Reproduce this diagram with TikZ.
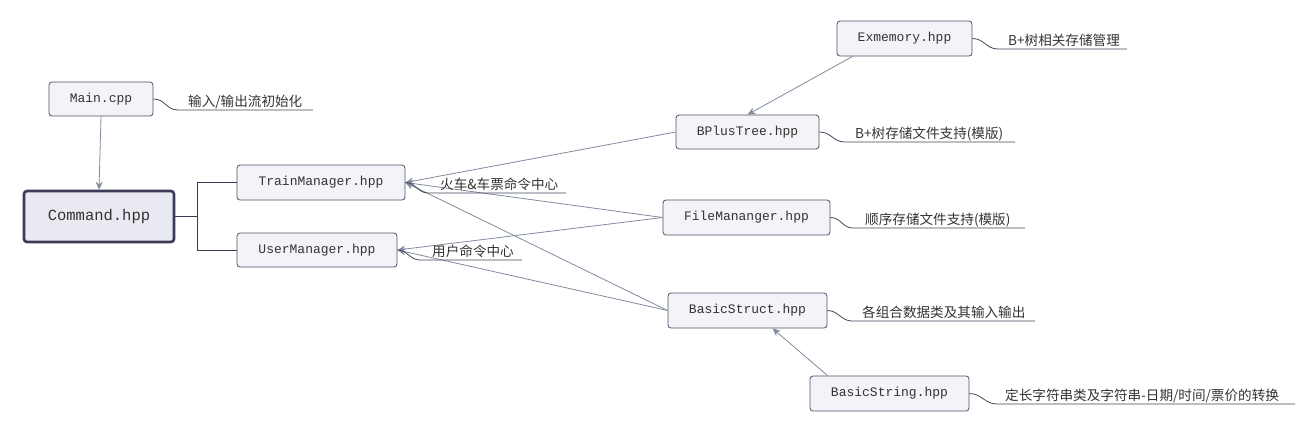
\documentclass[tikz,border=0pt]{standalone}
\usepackage{fontspec}
\setmonofont{Liberation Mono}
\newfontfamily\cjk{Noto Sans CJK SC}
\usetikzlibrary{arrows.meta}
\definecolor{boxline}{HTML}{50506A}
\definecolor{boxfill}{HTML}{F4F4F8}
\definecolor{cmdline}{HTML}{3B3B58}
\definecolor{cmdfill}{HTML}{E9E9F1}
\definecolor{arr}{HTML}{7F8B9E}
\definecolor{uline}{HTML}{45455A}
\definecolor{txt}{HTML}{333333}
\tikzset{
  box/.style={draw=boxline, fill=boxfill, rounded corners=3pt, line width=0.8pt,
    inner sep=0pt, text=txt, font=\ttfamily\fontsize{13}{15}\selectfont},
  cmdbox/.style={draw=cmdline, fill=cmdfill, rounded corners=3pt, line width=2.6pt,
    inner sep=0pt, text=txt, font=\ttfamily\fontsize{15.5}{18}\selectfont},
  dep/.style={draw=arr, line width=0.8pt, -{Stealth[length=8pt,width=7pt]}},
  tree/.style={draw=cmdline, line width=0.9pt},
  note/.style={draw=uline, line width=0.8pt},
  lab/.style={anchor=base west, inner sep=0pt, text=txt, font=\cjk\fontsize{13.6}{15}\selectfont},
}
\begin{document}
\begin{tikzpicture}[x=1pt,y=-1pt]
\useasboundingbox (0,0) rectangle (1315,432);
% nodes
\node[box, minimum width=104pt, minimum height=34pt] (main) at (101,99) {Main.cpp};
\node[cmdbox, minimum width=150pt, minimum height=51pt] (cmd) at (99,216.5) {Command.hpp};
\node[box, minimum width=168pt, minimum height=35pt] (train) at (321,182.5) {TrainManager.hpp};
\node[box, minimum width=160pt, minimum height=34pt] (user) at (317,250) {UserManager.hpp};
\node[box, minimum width=135pt, minimum height=35pt] (exm) at (904.5,38.5) {Exmemory.hpp};
\node[box, minimum width=143pt, minimum height=34pt] (bpt) at (747.5,132) {BPlusTree.hpp};
\node[box, minimum width=167pt, minimum height=35pt] (file) at (746.5,217.5) {FileMananger.hpp};
\node[box, minimum width=159pt, minimum height=35pt] (bstruct) at (747.5,310.5) {BasicStruct.hpp};
\node[box, minimum width=159pt, minimum height=35pt] (bstring) at (889.5,393.5) {BasicString.hpp};

% tree connectors from Command
\coordinate (fork) at (197,216.5);
\draw[tree] (cmd.east) -- (fork);
\draw[tree] (fork) |- (train.west);
\draw[tree] (fork) |- (user.west);

% dependency arrows
\draw[dep] (main.south) -- (cmd.north);
\draw[dep] (exm.south west) ++(16,0) coordinate (exa) (exa) -- (bpt.north);
\draw[dep] (bpt.west) -- (train.east);
\draw[dep] (file.west) -- (train.east);
\draw[dep] (file.west) -- (user.east);
\draw[dep] (bstruct.west) -- (train.east);
\draw[dep] (bstruct.west) -- (user.east);
\draw[dep] (bstring.north west) ++(18,0) coordinate (bsa) (bsa) -- ([xshift=25pt]bstruct.south);

% notes
\coordinate (m1) at (178,110); \coordinate (m2) at (313,110);
\draw[note] (main.east) .. controls +(12,0) and +(-12,0) .. (m1) -- (m2);
\node[lab] (mainlab) at (188,106) {输入/输出流初始化};

\coordinate (e1) at (998,49); \coordinate (e2) at (1127,49);
\draw[note] (exm.east) .. controls +(12,0) and +(-12,0) .. (e1) -- (e2);
\node[lab] (exmlab) at (1008,45) {B+树相关存储管理};

\coordinate (b1) at (845,142); \coordinate (b2) at (1015,142);
\draw[note] (bpt.east) .. controls +(12,0) and +(-12,0) .. (b1) -- (b2);
\node[lab] (bptlab) at (855,138) {B+树存储文件支持(模版)};

\coordinate (f1) at (853,228); \coordinate (f2) at (1025,228);
\draw[note] (file.east) .. controls +(11,0) and +(-11,0) .. (f1) -- (f2);
\node[lab] (filelab) at (865,224) {顺序存储文件支持(模版)};

\coordinate (s1) at (852,321); \coordinate (s2) at (1035,321);
\draw[note] (bstruct.east) .. controls +(11,0) and +(-11,0) .. (s1) -- (s2);
\node[lab] (bstructlab) at (862,317) {各组合数据类及其输入输出};

\coordinate (g1) at (997,404); \coordinate (g2) at (1295,404);
\draw[note] (bstring.east) .. controls +(12,0) and +(-12,0) .. (g1) -- (g2);
\node[lab] (bstringlab) at (1005,400) {定长字符串类及字符串-日期/时间/票价的转换};

\coordinate (t1) at (428,193); \coordinate (t2) at (566,193);
\draw[note] (train.east) .. controls +(10,0) and +(-10,0) .. (t1) -- (t2);
\node[lab] (trainlab) at (440,189) {火车\&车票命令中心};

\coordinate (u1) at (420,260); \coordinate (u2) at (522,260);
\draw[note] (user.east) .. controls +(10,0) and +(-10,0) .. (u1) -- (u2);
\node[lab] (userlab) at (432,256) {用户命令中心};
\end{tikzpicture}
\end{document}
